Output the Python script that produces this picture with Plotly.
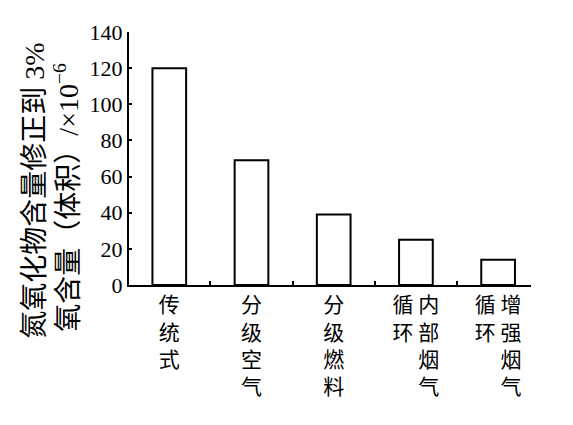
import plotly.graph_objects as go

categories = ["传统式", "分级空气", "分级燃料", "内部烟气循环", "增强烟气循环"]
nox_ppm = [120, 69, 39, 25, 14]
y_ticks = [0, 20, 40, 60, 80, 100, 120, 140]

title_line1 = "氮氧化物含量修正到 3%"
title_line2 = "氧含量（体积）/×10<sup>−6</sup>"


def vertical_label(name):
    # short names: one column; long names: first 4 chars on the right,
    # the rest in a second column to the left
    if len(name) <= 4:
        return "<br>".join(name)
    main, side = name[:4], name[4:]
    rows = []
    for i, ch in enumerate(main):
        left = side[i] if i < len(side) else "\u3000"
        rows.append(left + " " + ch)
    return "<br>".join(rows)


labels = [vertical_label(c) for c in categories]

fig = go.Figure(
    go.Bar(
        x=labels,
        y=nox_ppm,
        width=0.41,
        marker=dict(color="white", line=dict(color="black", width=2)),
    )
)

# page body has an 8px margin, so the figure is kept 8px smaller each way
fig.update_layout(
    width=565,
    height=417,
    margin=dict(l=121, r=42, t=15, b=140),
    paper_bgcolor="white",
    plot_bgcolor="white",
    showlegend=False,
    font=dict(family="Liberation Serif, Noto Sans CJK SC", color="black"),
)

fig.update_xaxes(
    type="category",
    range=[-0.49, 4.4],
    showline=True,
    linecolor="black",
    linewidth=2,
    ticks="inside",
    tickson="boundaries",
    ticklen=4,
    tickwidth=1.5,
    tickcolor="black",
    showgrid=False,
    tickfont=dict(family="Noto Sans CJK SC", size=21, color="black"),
    tickangle=0,
)

fig.update_yaxes(
    range=[0, 140],
    tickvals=y_ticks,
    showline=True,
    linecolor="black",
    linewidth=2,
    ticks="inside",
    ticklen=3,
    tickwidth=1.5,
    tickcolor="black",
    showgrid=False,
    zeroline=False,
    tickfont=dict(family="Liberation Serif", size=22, color="black"),
)

fig.add_annotation(
    text=title_line1,
    xref="paper", yref="paper",
    x=(26.5 - 121) / 402, y=(277 - 180) / 262,
    xanchor="center", yanchor="middle",
    textangle=-90, showarrow=False,
    font=dict(family="Liberation Serif, Noto Sans CJK SC", size=28, color="black"),
)
fig.add_annotation(
    text=title_line2,
    xref="paper", yref="paper",
    x=(58.5 - 121) / 402, y=(277 - 186) / 262,
    xanchor="center", yanchor="middle",
    textangle=-90, showarrow=False,
    font=dict(family="Liberation Serif, Noto Sans CJK SC", size=28, color="black"),
)

fig.write_html("out.html")
